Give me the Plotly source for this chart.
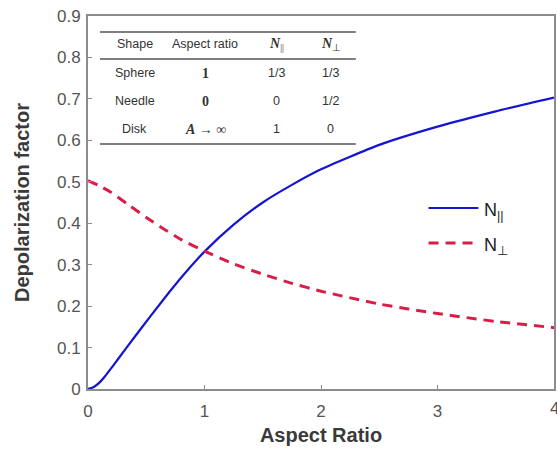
import plotly.graph_objects as go

aspect_par = [0, 0.05, 0.1, 0.15, 0.2, 0.26, 0.4, 0.54, 0.7, 0.83, 1.0, 1.25, 1.5, 1.75, 2.0, 2.5, 3.0, 3.5, 4.0]
n_par = [0, 0.005, 0.016, 0.032, 0.0505, 0.073, 0.1255, 0.177, 0.2346, 0.2788, 0.3315, 0.3965, 0.45, 0.4925, 0.53, 0.589, 0.633, 0.67, 0.703]
aspect_perp = [0, 0.1, 0.2, 0.35, 0.5, 0.65, 0.8, 1.0, 1.25, 1.5, 1.75, 2.0, 2.5, 3.0, 3.5, 4.0]
n_perp = [0.503, 0.49, 0.474, 0.444, 0.414, 0.386, 0.3605, 0.3325, 0.302, 0.277, 0.255, 0.236, 0.205, 0.182, 0.163, 0.148]

x_ticks = [0, 1, 2, 3, 4]
y_ticks = [0, 0.1, 0.2, 0.3, 0.4, 0.5, 0.6, 0.7, 0.8, 0.9]

table_header = ["Shape", "Aspect ratio", "<i><b>N</b></i><sub>||</sub>", "<i><b>N</b></i><sub>⊥</sub>"]
table_rows = [
    ["Sphere", "<b>1</b>", "1/3", "1/3"],
    ["Needle", "<b>0</b>", "0", "1/2"],
    ["Disk", "<b><i>A</i></b> → ∞", "1", "0"],
]
legend_names = ["N<sub>||</sub>", "N<sub>⊥</sub>"]

BLUE = "#1515d0"
RED = "#d81e48"

fig = go.Figure()
fig.add_trace(go.Scatter(x=aspect_par, y=n_par, mode="lines",
                         line=dict(color=BLUE, width=2.2, shape="spline", smoothing=0.5),
                         name=legend_names[0], showlegend=False))
fig.add_trace(go.Scatter(x=aspect_perp, y=n_perp, mode="lines",
                         line=dict(color=RED, width=3, dash="10px,7px", shape="spline", smoothing=0.5),
                         name=legend_names[1], showlegend=False))

axis_common = dict(showline=True, linecolor="#8c8c8c", linewidth=2, mirror=True, ticks="inside",
                   ticklen=4, tickcolor="#8c8c8c", showgrid=False, zeroline=False,
                   tickfont=dict(family="Arial, Liberation Sans", size=17, color="#555"))

fig.update_layout(
    width=557, height=450,
    margin=dict(l=88, r=1, t=16, b=61),
    plot_bgcolor="white", paper_bgcolor="white",
    xaxis=dict(range=[0, 4], tickvals=x_ticks, ticktext=[str(v) for v in x_ticks],
               ticklabelstandoff=6,
               title=dict(text="<b>Aspect Ratio</b>", font=dict(family="Arial, Liberation Sans", size=20, color="#3a3a3a"), standoff=8),
               **axis_common),
    yaxis=dict(range=[0, 0.9], tickvals=y_ticks, ticktext=["0" if v == 0 else f"{v:.1f}" for v in y_ticks],
               ticklabelstandoff=2,
               title=dict(text="<b>Depolarization factor</b>", font=dict(family="Arial, Liberation Sans", size=20, color="#3a3a3a"), standoff=22),
               **axis_common),
    showlegend=False,
)

PL, PR, PT, PB = 88, 556, 16, 389
def fx(xp):
    return (xp - PL) / (PR - PL)
def fy(yp):
    return (PB - yp) / (PB - PT)

# embedded table
col_x = [135, 206, 277, 332]
row_y = [44, 73, 101, 129]
sans = "Liberation Sans, Arial"
serif = "Liberation Serif, Times New Roman"
for j, h in enumerate(table_header):
    fig.add_annotation(xref="paper", yref="paper", x=fx(col_x[j]), y=fy(row_y[0]),
                       text=h, showarrow=False,
                       font=dict(family=serif if j >= 2 else sans, size=14 if j >= 2 else 12.5, color="#333"),
                       xanchor="center", yanchor="middle")
for i, row in enumerate(table_rows):
    for j, c in enumerate(row):
        fam = serif if j == 1 else sans
        size = 14 if j == 1 else 12.5
        fig.add_annotation(xref="paper", yref="paper", x=fx(col_x[j]), y=fy(row_y[i + 1]),
                           text=c, showarrow=False, font=dict(family=fam, size=size, color="#333"),
                           xanchor="center", yanchor="middle")
for yl in [32, 59, 144]:
    fig.add_shape(type="line", xref="paper", yref="paper",
                  x0=fx(100), x1=fx(357), y0=fy(yl), y1=fy(yl),
                  line=dict(color="#555", width=1.3))

# manual legend
for k, (yl, col, dash, w) in enumerate([(208, BLUE, "solid", 2.2), (243, RED, "10px,7px", 3)]):
    fig.add_shape(type="line", xref="paper", yref="paper",
                  x0=fx(430), x1=fx(480), y0=fy(yl), y1=fy(yl),
                  line=dict(color=col, width=w, dash=dash))
    fig.add_annotation(xref="paper", yref="paper", x=fx(484), y=fy(yl + 3),
                       text=legend_names[k], showarrow=False,
                       font=dict(family="Arial, Liberation Sans", size=18, color="#222"),
                       xanchor="left", yanchor="middle")

# last x tick label at the clipped right edge (as in the reference)
fig.add_annotation(xref="x", yref="paper", x=4, y=0, yshift=-8, text="4", showarrow=False,
                   font=dict(family="Arial, Liberation Sans", size=17, color="#555"),
                   xanchor="center", yanchor="top")

fig.write_html("out.html")
